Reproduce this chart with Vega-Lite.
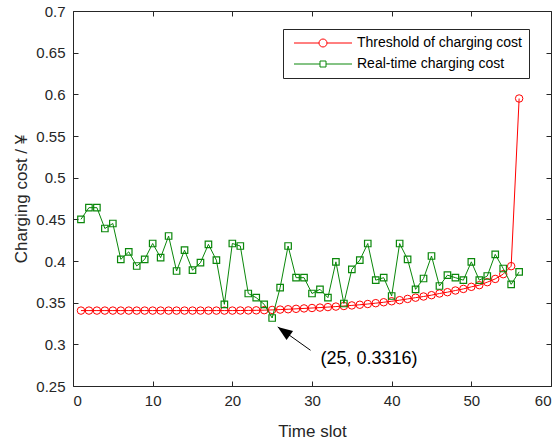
{
  "$schema": "https://vega.github.io/schema/vega-lite/v6.json",
  "width": 478,
  "height": 375,
  "autosize": {"type": "none"},
  "padding": {"left": 73, "top": 11, "right": 8, "bottom": 55},
  "background": "white",
  "config": {
    "view": {"stroke": null},
    "font": "Liberation Sans",
    "axis": {
      "labelFont": "Liberation Sans", "labelFontSize": 15, "labelColor": "#262626",
      "titleFont": "Liberation Sans", "titleFontSize": 17, "titleColor": "#262626", "titleFontWeight": "normal",
      "domainColor": "#262626", "tickColor": "#262626", "tickSize": -5, "grid": false
    }
  },
  "datasets": {
    "series": [
      {"t":1,"series":"Threshold of charging cost","cost":0.3405},{"t":2,"series":"Threshold of charging cost","cost":0.3405},{"t":3,"series":"Threshold of charging cost","cost":0.3405},{"t":4,"series":"Threshold of charging cost","cost":0.3405},{"t":5,"series":"Threshold of charging cost","cost":0.3405},{"t":6,"series":"Threshold of charging cost","cost":0.3405},{"t":7,"series":"Threshold of charging cost","cost":0.3405},{"t":8,"series":"Threshold of charging cost","cost":0.3405},{"t":9,"series":"Threshold of charging cost","cost":0.3405},{"t":10,"series":"Threshold of charging cost","cost":0.3405},{"t":11,"series":"Threshold of charging cost","cost":0.3405},{"t":12,"series":"Threshold of charging cost","cost":0.3405},{"t":13,"series":"Threshold of charging cost","cost":0.3405},{"t":14,"series":"Threshold of charging cost","cost":0.3405},{"t":15,"series":"Threshold of charging cost","cost":0.3405},{"t":16,"series":"Threshold of charging cost","cost":0.3405},{"t":17,"series":"Threshold of charging cost","cost":0.3405},{"t":18,"series":"Threshold of charging cost","cost":0.3405},{"t":19,"series":"Threshold of charging cost","cost":0.3405},{"t":20,"series":"Threshold of charging cost","cost":0.3405},{"t":21,"series":"Threshold of charging cost","cost":0.3406},{"t":22,"series":"Threshold of charging cost","cost":0.3407},{"t":23,"series":"Threshold of charging cost","cost":0.3408},{"t":24,"series":"Threshold of charging cost","cost":0.341},{"t":25,"series":"Threshold of charging cost","cost":0.3413},{"t":26,"series":"Threshold of charging cost","cost":0.3417},{"t":27,"series":"Threshold of charging cost","cost":0.3421},{"t":28,"series":"Threshold of charging cost","cost":0.3426},{"t":29,"series":"Threshold of charging cost","cost":0.3431},{"t":30,"series":"Threshold of charging cost","cost":0.3436},{"t":31,"series":"Threshold of charging cost","cost":0.3441},{"t":32,"series":"Threshold of charging cost","cost":0.3447},{"t":33,"series":"Threshold of charging cost","cost":0.3453},{"t":34,"series":"Threshold of charging cost","cost":0.346},{"t":35,"series":"Threshold of charging cost","cost":0.3467},{"t":36,"series":"Threshold of charging cost","cost":0.3475},{"t":37,"series":"Threshold of charging cost","cost":0.3484},{"t":38,"series":"Threshold of charging cost","cost":0.3494},{"t":39,"series":"Threshold of charging cost","cost":0.3505},{"t":40,"series":"Threshold of charging cost","cost":0.3517},{"t":41,"series":"Threshold of charging cost","cost":0.353},{"t":42,"series":"Threshold of charging cost","cost":0.3545},{"t":43,"series":"Threshold of charging cost","cost":0.356},{"t":44,"series":"Threshold of charging cost","cost":0.3574},{"t":45,"series":"Threshold of charging cost","cost":0.359},{"t":46,"series":"Threshold of charging cost","cost":0.361},{"t":47,"series":"Threshold of charging cost","cost":0.3626},{"t":48,"series":"Threshold of charging cost","cost":0.3646},{"t":49,"series":"Threshold of charging cost","cost":0.3665},{"t":50,"series":"Threshold of charging cost","cost":0.369},{"t":51,"series":"Threshold of charging cost","cost":0.371},{"t":52,"series":"Threshold of charging cost","cost":0.3746},{"t":53,"series":"Threshold of charging cost","cost":0.3785},{"t":54,"series":"Threshold of charging cost","cost":0.3842},{"t":55,"series":"Threshold of charging cost","cost":0.3938},{"t":56,"series":"Threshold of charging cost","cost":0.595},
      {"t":1,"series":"Real-time charging cost","cost":0.450},{"t":2,"series":"Real-time charging cost","cost":0.464},{"t":3,"series":"Real-time charging cost","cost":0.464},{"t":4,"series":"Real-time charging cost","cost":0.439},{"t":5,"series":"Real-time charging cost","cost":0.445},{"t":6,"series":"Real-time charging cost","cost":0.402},{"t":7,"series":"Real-time charging cost","cost":0.411},{"t":8,"series":"Real-time charging cost","cost":0.394},{"t":9,"series":"Real-time charging cost","cost":0.402},{"t":10,"series":"Real-time charging cost","cost":0.421},{"t":11,"series":"Real-time charging cost","cost":0.404},{"t":12,"series":"Real-time charging cost","cost":0.430},{"t":13,"series":"Real-time charging cost","cost":0.388},{"t":14,"series":"Real-time charging cost","cost":0.413},{"t":15,"series":"Real-time charging cost","cost":0.389},{"t":16,"series":"Real-time charging cost","cost":0.398},{"t":17,"series":"Real-time charging cost","cost":0.420},{"t":18,"series":"Real-time charging cost","cost":0.401},{"t":19,"series":"Real-time charging cost","cost":0.348},{"t":20,"series":"Real-time charging cost","cost":0.421},{"t":21,"series":"Real-time charging cost","cost":0.418},{"t":22,"series":"Real-time charging cost","cost":0.361},{"t":23,"series":"Real-time charging cost","cost":0.356},{"t":24,"series":"Real-time charging cost","cost":0.348},{"t":25,"series":"Real-time charging cost","cost":0.3316},{"t":26,"series":"Real-time charging cost","cost":0.368},{"t":27,"series":"Real-time charging cost","cost":0.418},{"t":28,"series":"Real-time charging cost","cost":0.380},{"t":29,"series":"Real-time charging cost","cost":0.380},{"t":30,"series":"Real-time charging cost","cost":0.361},{"t":31,"series":"Real-time charging cost","cost":0.366},{"t":32,"series":"Real-time charging cost","cost":0.356},{"t":33,"series":"Real-time charging cost","cost":0.399},{"t":34,"series":"Real-time charging cost","cost":0.349},{"t":35,"series":"Real-time charging cost","cost":0.390},{"t":36,"series":"Real-time charging cost","cost":0.401},{"t":37,"series":"Real-time charging cost","cost":0.421},{"t":38,"series":"Real-time charging cost","cost":0.377},{"t":39,"series":"Real-time charging cost","cost":0.380},{"t":40,"series":"Real-time charging cost","cost":0.358},{"t":41,"series":"Real-time charging cost","cost":0.421},{"t":42,"series":"Real-time charging cost","cost":0.402},{"t":43,"series":"Real-time charging cost","cost":0.366},{"t":44,"series":"Real-time charging cost","cost":0.379},{"t":45,"series":"Real-time charging cost","cost":0.406},{"t":46,"series":"Real-time charging cost","cost":0.370},{"t":47,"series":"Real-time charging cost","cost":0.383},{"t":48,"series":"Real-time charging cost","cost":0.380},{"t":49,"series":"Real-time charging cost","cost":0.377},{"t":50,"series":"Real-time charging cost","cost":0.399},{"t":51,"series":"Real-time charging cost","cost":0.377},{"t":52,"series":"Real-time charging cost","cost":0.382},{"t":53,"series":"Real-time charging cost","cost":0.408},{"t":54,"series":"Real-time charging cost","cost":0.391},{"t":55,"series":"Real-time charging cost","cost":0.372},{"t":56,"series":"Real-time charging cost","cost":0.387}
    ],
    "note": [
      {"label": "(25, 0.3316)", "tx": 31.06, "ty": 0.2821, "x0": 29.81, "y0": 0.2929, "x1": 25.7, "y1": 0.3209}
    ]
  },
  "resolve": {"axis": {"x": "independent", "y": "independent"}},
  "layer": [
    {
      "data": {"name": "series"},
      "transform": [{"filter": "datum.series === 'Threshold of charging cost'"}],
      "mark": {"type": "line", "strokeWidth": 1},
      "encoding": {
        "x": {"field": "t", "type": "quantitative", "scale": {"domain": [0, 60], "nice": false, "zero": false},
              "axis": {"title": "Time slot", "values": [0,10,20,30,40,50,60], "labelPadding": 12, "titlePadding": 15, "format": "d"}},
        "y": {"field": "cost", "type": "quantitative", "scale": {"domain": [0.25, 0.7], "nice": false, "zero": false},
              "axis": {"title": "Charging cost / ¥", "values": [0.25,0.3,0.35,0.4,0.45,0.5,0.55,0.6,0.65,0.7], "format": ".2~f", "labelPadding": 13, "titlePadding": 5}},
        "color": {"field": "series", "type": "nominal",
          "scale": {"domain": ["Threshold of charging cost", "Real-time charging cost"], "range": ["#ff0000", "#0a870a"]},
          "legend": {
            "title": null, "orient": "none", "legendX": 210, "legendY": 18,
            "strokeColor": "#262626", "fillColor": "white", "padding": 7, "rowPadding": 7,
            "labelFont": "Liberation Sans", "labelFontSize": 14, "labelColor": "#000000", "labelLimit": 400,
            "symbolSize": 100, "symbolOffset": 26, "labelOffset": 27, "symbolStrokeWidth": 1,
            "encode": {
              "symbols": {
                "update": {
                  "shape": [
                    {"test": "datum.value === 'Threshold of charging cost'", "value": "M-5.8,0H-0.8M0.8,0H5.8M0.8,0A0.8,0.8,0,1,1,-0.8,0A0.8,0.8,0,1,1,0.8,0Z"},
                    {"value": "M-5.8,0H-0.6M0.6,0H5.8M-0.6,-0.6H0.6V0.6H-0.6Z"}
                  ],
                  "fill": {"value": "transparent"},
                  "strokeWidth": {"value": 1},
                  "opacity": {"value": 1}
                }
              }
            }
          }
        }
      }
    },
    {
      "data": {"name": "series"},
      "transform": [{"filter": "datum.series === 'Threshold of charging cost'"}],
      "mark": {"type": "point", "shape": "circle", "filled": false, "size": 56, "strokeWidth": 1, "opacity": 1},
      "encoding": {
        "x": {"field": "t", "type": "quantitative", "axis": null},
        "y": {"field": "cost", "type": "quantitative", "axis": null},
        "color": {"field": "series", "type": "nominal"}
      }
    },
    {
      "data": {"name": "series"},
      "transform": [{"filter": "datum.series === 'Real-time charging cost'"}],
      "mark": {"type": "line", "strokeWidth": 1},
      "encoding": {
        "x": {"field": "t", "type": "quantitative", "axis": null},
        "y": {"field": "cost", "type": "quantitative", "axis": null},
        "color": {"field": "series", "type": "nominal"}
      }
    },
    {
      "data": {"name": "series"},
      "transform": [{"filter": "datum.series === 'Real-time charging cost'"}],
      "mark": {"type": "point", "shape": "square", "filled": false, "size": 42, "strokeWidth": 1.2, "opacity": 1},
      "encoding": {
        "x": {"field": "t", "type": "quantitative", "axis": null},
        "y": {"field": "cost", "type": "quantitative", "axis": null},
        "color": {"field": "series", "type": "nominal"}
      }
    },
    {
      "data": {"name": "note"},
      "mark": {"type": "rule", "color": "#000000", "strokeWidth": 1},
      "encoding": {
        "x": {"field": "x0", "type": "quantitative", "axis": null},
        "y": {"field": "y0", "type": "quantitative", "axis": null},
        "x2": {"field": "x1"},
        "y2": {"field": "y1"}
      }
    },
    {
      "data": {"name": "note"},
      "mark": {"type": "point", "shape": "M0,0L-0.38,1L0.38,1Z", "filled": true, "color": "#000000", "size": 876, "angle": 305.5, "opacity": 1},
      "encoding": {
        "x": {"field": "x1", "type": "quantitative", "axis": null},
        "y": {"field": "y1", "type": "quantitative", "axis": null}
      }
    },
    {
      "data": {"name": "note"},
      "mark": {"type": "text", "align": "left", "baseline": "middle", "font": "Liberation Sans", "fontSize": 18, "color": "#000000"},
      "encoding": {
        "x": {"field": "tx", "type": "quantitative",
              "axis": {"orient": "top", "title": null, "labels": false, "values": [0,10,20,30,40,50,60]}},
        "y": {"field": "ty", "type": "quantitative",
              "axis": {"orient": "right", "title": null, "labels": false, "values": [0.25,0.3,0.35,0.4,0.45,0.5,0.55,0.6,0.65,0.7]}},
        "text": {"field": "label"}
      }
    }
  ]
}
